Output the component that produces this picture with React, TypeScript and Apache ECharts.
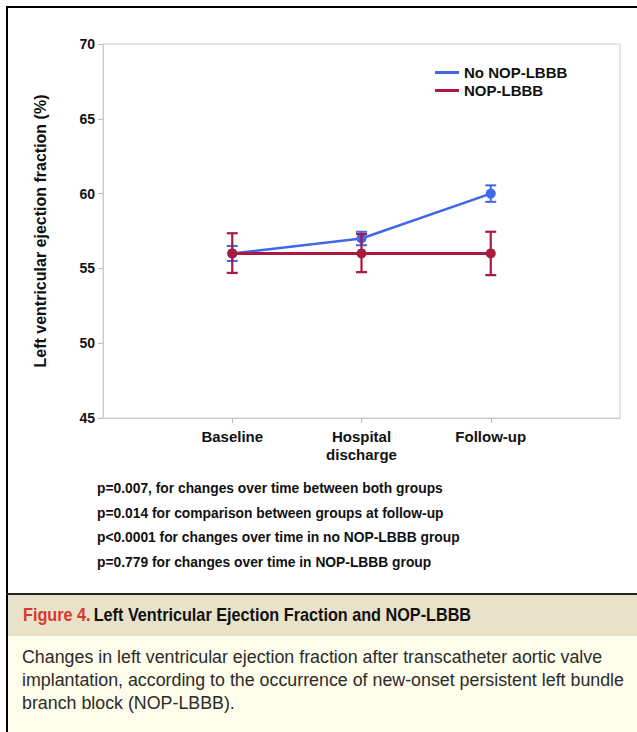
import React, { useEffect, useRef } from "react";
import * as echarts from "echarts";

// ---- data ----
const categories = ["Baseline", "Hospital\ndischarge", "Follow-up"];
const seriesNames = ["No NOP-LBBB", "NOP-LBBB"];
const noLbbbMean = [56.0, 57.0, 60.0];
const noLbbbLow = [55.5, 56.55, 59.45];
const noLbbbHigh = [56.5, 57.45, 60.55];
const lbbbMean = [56.0, 56.0, 56.0];
const lbbbLow = [54.7, 54.75, 54.55];
const lbbbHigh = [57.35, 57.3, 57.45];
const yTicks = { min: 45, max: 70, interval: 5 };
const yAxisTitle = "Left ventricular ejection fraction (%)";
const pValueNotes = [
  "p=0.007, for changes over time between both groups",
  "p=0.014 for comparison between groups at follow-up",
  "p<0.0001 for changes over time in no NOP-LBBB group",
  "p=0.779 for changes over time in NOP-LBBB group",
];
const figureLabel = "Figure 4.";
const figureTitle = "Left Ventricular Ejection Fraction and NOP-LBBB";
const captionLines = [
  "Changes in left ventricular ejection fraction after transcatheter aortic valve",
  "implantation, according to the occurrence of new-onset persistent left bundle",
  "branch block (NOP-LBBB).",
];

const BLUE = "#4066ea";
const RED = "#a81a3e";
const FONT = "'Liberation Sans', Arial, sans-serif";

function measure(text: string, font: string): number {
  const c = document.createElement("canvas");
  const ctx = c.getContext("2d");
  if (!ctx) return 1;
  ctx.font = font;
  return ctx.measureText(text).width;
}

export default function App() {
  const ref = useRef<HTMLDivElement>(null);
  useEffect(() => {
    if (!ref.current) return;
    const chart = echarts.init(ref.current, null, { renderer: "svg" });

    const axisCats = ["", ...categories, " "];
    const lineData = (vals: number[]) => vals.map((v, i) => [i + 1, v]);
    const errData = (lo: number[], hi: number[]) => lo.map((l, i) => [i + 1, l, hi[i]]);

    const errRender = (color: string, width: number) => (params: any, api: any) => {
      const x = api.value(0);
      const lo = api.coord([x, api.value(1)]);
      const hi = api.coord([x, api.value(2)]);
      const half = 5.5;
      const style = { stroke: color, lineWidth: width };
      return {
        type: "group",
        children: [
          { type: "line", shape: { x1: lo[0], y1: lo[1], x2: hi[0], y2: hi[1] }, style },
          { type: "line", shape: { x1: lo[0] - half, y1: lo[1], x2: lo[0] + half, y2: lo[1] }, style },
          { type: "line", shape: { x1: hi[0] - half, y1: hi[1], x2: hi[0] + half, y2: hi[1] }, style },
        ],
      };
    };

    const bodyPx = 18.5;
    const bodyFontM = `${bodyPx}px "Liberation Sans"`;
    const bodyScale =
      (575 + 608) / (measure(captionLines[0], bodyFontM) + measure(captionLines[1], bodyFontM));
    const headPx = 17.5;
    const headScale =
      450 / measure(`${figureLabel} ${figureTitle}`, `bold ${headPx}px "Liberation Sans"`);
    const notePx = 13;
    const noteScale = 346 / measure(pValueNotes[0], `bold ${notePx}px "Liberation Sans"`);

    const graphics: any[] = [
      // frame
      { type: "rect", shape: { x: 8, y: 595, width: 629, height: 41 }, style: { fill: "#e9e2cb" }, z: -10 },
      { type: "rect", shape: { x: 8, y: 636, width: 629, height: 96 }, style: { fill: "#fefcea" }, z: -10 },
      { type: "line", shape: { x1: 6, y1: 7, x2: 637, y2: 7 }, style: { stroke: "#000", lineWidth: 2 } },
      { type: "line", shape: { x1: 7, y1: 6, x2: 7, y2: 732 }, style: { stroke: "#000", lineWidth: 2 } },
      { type: "line", shape: { x1: 6, y1: 594, x2: 637, y2: 594 }, style: { stroke: "#222", lineWidth: 2 } },
      ...pValueNotes.map((t, i) => ({
        type: "text",
        x: 97,
        y: 488 + i * 24.5,
        scaleX: noteScale,
        scaleY: 1.12,
        style: { text: t, font: `bold ${notePx}px ${FONT}`, fill: "#111", verticalAlign: "middle", align: "left" },
      })),
      {
        type: "text",
        x: 23,
        y: 615,
        scaleX: headScale,
        style: {
          text: `{r|${figureLabel}} {b|${figureTitle}}`,
          verticalAlign: "middle",
          align: "left",
          rich: {
            r: { font: `bold ${headPx}px ${FONT}`, fill: "#d6392a" },
            b: { font: `bold ${headPx}px ${FONT}`, fill: "#111" },
          },
        },
      },
      ...captionLines.map((t, i) => ({
        type: "text",
        x: 22,
        y: 657 + i * 23,
        scaleX: bodyScale,
        style: { text: t, font: `${bodyPx}px ${FONT}`, fill: "#2b2b2b", verticalAlign: "middle", align: "left" },
      })),
    ];

    chart.setOption({
      animation: false,
      backgroundColor: "#ffffff",
      textStyle: { fontFamily: FONT },
      grid: { left: 103, right: 17, top: 44, bottom: 314, show: true, borderColor: "#cccccc", borderWidth: 1, backgroundColor: "transparent" },
      legend: {
        data: seriesNames,
        orient: "vertical",
        left: 430,
        top: 60,
        icon: "rect",
        itemWidth: 24,
        itemHeight: 3,
        itemGap: 3,
        textStyle: { fontSize: 15, fontWeight: "bold", color: "#111", fontFamily: FONT },
      },
      xAxis: {
        type: "category",
        data: axisCats,
        boundaryGap: false,
        axisLine: { show: true, lineStyle: { color: "#cccccc", width: 1 } },
        axisTick: { show: true, length: 5, lineStyle: { color: "#bbbbbb" }, interval: (i: number) => i >= 1 && i <= categories.length },
        axisLabel: { interval: 0, margin: 9, fontSize: 15, fontWeight: "bold", color: "#111", lineHeight: 18, fontFamily: FONT },
        splitLine: { show: false },
      },
      yAxis: {
        type: "value",
        min: yTicks.min,
        max: yTicks.max,
        interval: yTicks.interval,
        name: yAxisTitle,
        nameLocation: "middle",
        nameGap: 55,
        nameTextStyle: { fontSize: 16, fontWeight: "bold", color: "#111", fontFamily: FONT },
        axisLine: { show: true, lineStyle: { color: "#cccccc", width: 1 } },
        axisTick: { show: true, length: 5, lineStyle: { color: "#bbbbbb" } },
        axisLabel: { margin: 8, fontSize: 14, fontWeight: "bold", color: "#111", fontFamily: FONT },
        splitLine: { show: false },
      },
      series: [
        {
          name: "err-no",
          type: "custom",
          renderItem: errRender(BLUE, 2),
          data: errData(noLbbbLow, noLbbbHigh),
          encode: { x: 0, y: [1, 2] },
          z: 2,
        },
        {
          name: seriesNames[0],
          type: "line",
          data: lineData(noLbbbMean),
          color: BLUE,
          symbol: "circle",
          symbolSize: 10,
          lineStyle: { color: BLUE, width: 2.5 },
          itemStyle: { color: BLUE },
          z: 3,
        },
        {
          name: "err-yes",
          type: "custom",
          renderItem: errRender(RED, 2.2),
          data: errData(lbbbLow, lbbbHigh),
          encode: { x: 0, y: [1, 2] },
          z: 4,
        },
        {
          name: seriesNames[1],
          type: "line",
          data: lineData(lbbbMean),
          color: RED,
          symbol: "circle",
          symbolSize: 10,
          lineStyle: { color: RED, width: 3 },
          itemStyle: { color: RED },
          z: 5,
        },
      ],
      graphic: graphics,
    });
    return () => chart.dispose();
  }, []);
  return (
    <div
      ref={ref}
      style={{ position: "absolute", left: 0, top: 0, width: 637, height: 732 }}
    />
  );
}
